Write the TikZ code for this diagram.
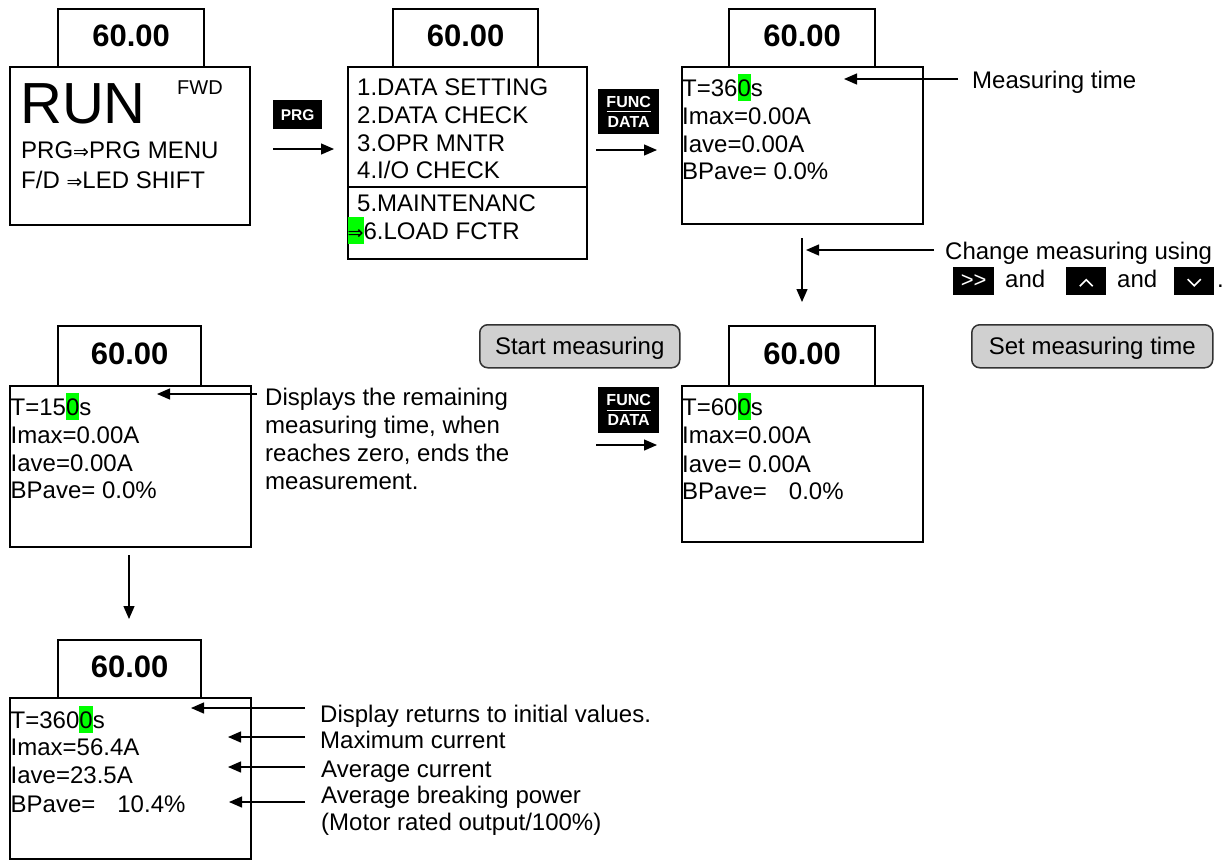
\documentclass[tikz,border=0pt]{standalone}
\usepackage{fontspec}
\setmainfont{Liberation Sans}
\newfontfamily\djv{DejaVu Sans}
\usetikzlibrary{arrows.meta,calc}
\definecolor{hlgreen}{RGB}{0,255,0}
\definecolor{btnfill}{RGB}{208,208,208}
\definecolor{btnline}{RGB}{50,50,50}
\newcommand\hlz[1]{{\setlength{\fboxsep}{0pt}\colorbox{hlgreen}{\rule[-5pt]{0pt}{27pt}#1}}}
\newcommand\Ra{{\djv\fontsize{19}{22}\selectfont ⇒}}
\begin{document}
\begin{tikzpicture}[x=1pt,y=-1pt,
  screen/.style={draw, line width=2.2pt, anchor=north west, inner sep=0pt},
  tab/.style={screen, text depth=4pt, font=\bfseries\fontsize{31}{36}\selectfont},
  txt/.style={anchor=base west, inner sep=0pt, font=\fontsize{24}{28}\selectfont},
  para/.style={anchor=north west, inner sep=0pt, align=left, font=\fontsize{24}{28}\selectfont},
  key/.style={fill=black, text=white, anchor=north west, inner sep=0pt},
  btn/.style={draw=btnline, fill=btnfill, rounded corners=8pt, line width=1.5pt, anchor=north west, inner sep=0pt, minimum height=43pt, text depth=0pt, font=\fontsize{24}{28}\selectfont},
  chev/.style={white, line width=1.6pt},
  arr/.style={line width=1.3pt, -{Triangle[length=13pt,width=11pt]}}]
\useasboundingbox (0,0) rectangle (1228,860);
\fill[white] (0,0) rectangle (1228,860);

% ---------- Box 1 ----------
\node[tab, minimum width=146pt, minimum height=58pt] (t1) at (57,8) {60.00};
\node[screen, minimum width=240pt, minimum height=158pt] (b1) at (9,66) {};
\node[txt, font=\fontsize{58}{62}\selectfont] (run) at (20,123) {RUN};
\node[txt, font=\fontsize{20}{24}\selectfont] (fwd) at (177,94) {FWD};
\node[txt] (m1) at (21,158) {PRG\Ra PRG MENU};
\node[txt] (m2) at (21,188) {F/D \Ra LED SHIFT};

% ---------- Box 2 ----------
\node[tab, minimum width=145pt, minimum height=58pt] (t2) at (392,8) {60.00};
\node[screen, minimum width=239pt, minimum height=192pt] (b2) at (347,66) {};
\draw[line width=2.2pt] (b2.west |- 0,187) -- (b2.east |- 0,187);
\node[txt] (l1) at (357,95) {1.DATA SETTING};
\node[txt] (l2) at (357,123) {2.DATA CHECK};
\node[txt] (l3) at (357,151) {3.OPR MNTR};
\node[txt] (l4) at (357,178) {4.I/O CHECK};
\node[txt] (l5) at (357,211) {5.MAINTENANC};
\node[txt] (l6) at (347.5,239) {\hlz{\Ra}6.LOAD FCTR};

% ---------- Box 3 ----------
\node[tab, minimum width=146pt, minimum height=58pt] (t3) at (728,8) {60.00};
\node[screen, minimum width=241pt, minimum height=157pt] (b3) at (681,66) {};
\node[txt] (c1) at (682,96) {T=36\hlz{0}s};
\node[txt] (c2) at (682,124) {Imax=0.00A};
\node[txt] (c3) at (682,152) {Iave=0.00A};
\node[txt] (c4) at (682,179) {BPave= 0.0\%};

% ---------- Box 4 ----------
\node[tab, minimum width=143pt, minimum height=60pt] (t4) at (57,325) {60.00};
\node[screen, minimum width=241pt, minimum height=161pt] (b4) at (9,385) {};
\node[txt] (d1) at (10.5,415) {T=15\hlz{0}s};
\node[txt] (d2) at (10.5,443) {Imax=0.00A};
\node[txt] (d3) at (10.5,471) {Iave=0.00A};
\node[txt] (d4) at (10.5,498) {BPave= 0.0\%};

% ---------- Box 5 ----------
\node[tab, minimum width=146pt, minimum height=60pt] (t5) at (728,325) {60.00};
\node[screen, minimum width=241pt, minimum height=156pt] (b5) at (681,385) {};
\node[txt] (e1) at (682,415) {T=60\hlz{0}s};
\node[txt] (e2) at (682,443) {Imax=0.00A};
\node[txt] (e3) at (682,472) {Iave= 0.00A};
\node[txt] (e4) at (682,499) {BPave=\hspace{22pt}0.0\%};

% ---------- Box 6 ----------
\node[tab, minimum width=143pt, minimum height=58pt] (t6) at (57,639) {60.00};
\node[screen, minimum width=241pt, minimum height=161pt] (b6) at (9,697) {};
\node[txt] (f1) at (10.5,728) {T=360\hlz{0}s};
\node[txt] (f2) at (10.5,755) {Imax=56.4A};
\node[txt] (f3) at (10.5,783) {Iave=23.5A};
\node[txt] (f4) at (10.5,812) {BPave=\hspace{22pt}10.4\%};

% ---------- Keys ----------
\node[key, minimum width=49pt, minimum height=29pt, font=\bfseries\fontsize{15.5}{17}\selectfont] (kprg) at (273,100) {PRG};
\node[key, minimum width=61pt, minimum height=45pt, align=center, font=\bfseries\fontsize{16}{20}\selectfont] (kf1) at (598,89) {FUNC\\DATA};
\draw[white, line width=1.2pt] ($(kf1.center)+(-22,-0.5)$) -- ($(kf1.center)+(22,-0.5)$);
\node[key, minimum width=61pt, minimum height=46pt, align=center, font=\bfseries\fontsize{16}{20}\selectfont] (kf2) at (598,387) {FUNC\\DATA};
\draw[white, line width=1.2pt] ($(kf2.center)+(-22,0)$) -- ($(kf2.center)+(22,0)$);

% ---------- Buttons ----------
\node[btn, minimum width=200pt] (bstart) at (479,324) {Start measuring};
\node[btn, minimum width=241pt] (bset) at (971,324) {Set measuring time};

% ---------- Labels ----------
\node[txt] (tmt) at (972,88) {Measuring time};
\node[txt] (tcm) at (945,259) {Change measuring using};
\node[key, minimum width=41pt, minimum height=28pt, font=\fontsize{22}{24}\selectfont] (kshift) at (953,267) {{>}{>}};
\node[txt] (and1) at (1005,287) {and};
\node[key, minimum width=40pt, minimum height=28pt] (kup) at (1066,267) {};
\draw[chev] ($(kup.center)+(-6.5,5)$) -- ($(kup.center)+(0,-1.5)$) -- ($(kup.center)+(6.5,5)$);
\node[txt] (and2) at (1117,287) {and};
\node[key, minimum width=40pt, minimum height=28pt] (kdn) at (1174,267) {};
\draw[chev] ($(kdn.center)+(-6.5,-2)$) -- ($(kdn.center)+(0,4.5)$) -- ($(kdn.center)+(6.5,-2)$);
\node[txt] (dot) at (1217,287) {.};

\node[para] (tdisp) at (265,387.5) {Displays the remaining\\measuring time, when\\reaches zero, ends the\\measurement.};

\node[txt] (r1) at (320,722) {Display returns to initial values.};
\node[txt] (r2) at (320,748) {Maximum current};
\node[txt] (r3) at (321,777) {Average current};
\node[para, font=\fontsize{24}{27}\selectfont] (r4) at (321,785.5) {Average breaking power\\(Motor rated output/100\%)};

% ---------- Arrows ----------
\coordinate (p1a) at (273,149); \coordinate (p1b) at (334,149);
\coordinate (p2a) at (596,150); \coordinate (p2b) at (657,150);
\coordinate (p3a) at (802,238); \coordinate (p3b) at (802,302);
\coordinate (p4a) at (596,445); \coordinate (p4b) at (657,445);
\coordinate (p5a) at (129,555); \coordinate (p5b) at (129,619);
\draw[arr] (p1a) -- (p1b);
\draw[arr] (p2a) -- (p2b);
\draw[arr] (p3a) -- (p3b);
\draw[arr] (p4a) -- (p4b);
\draw[arr] (p5a) -- (p5b);

\coordinate (q1a) at (958,79);  \coordinate (q1b) at (844,79);
\coordinate (q2a) at (934,250); \coordinate (q2b) at (806,250);
\coordinate (q3a) at (257,394); \coordinate (q3b) at (157,394);
\coordinate (q4a) at (305,708); \coordinate (q4b) at (191,708);
\coordinate (q5a) at (305,737); \coordinate (q5b) at (228,737);
\coordinate (q6a) at (305,767); \coordinate (q6b) at (228,767);
\coordinate (q7a) at (305,802); \coordinate (q7b) at (229,802);
\draw[arr] (q1a) -- (q1b);
\draw[arr] (q2a) -- (q2b);
\draw[arr] (q3a) -- (q3b);
\draw[arr] (q4a) -- (q4b);
\draw[arr] (q5a) -- (q5b);
\draw[arr] (q6a) -- (q6b);
\draw[arr] (q7a) -- (q7b);
\end{tikzpicture}
\end{document}
